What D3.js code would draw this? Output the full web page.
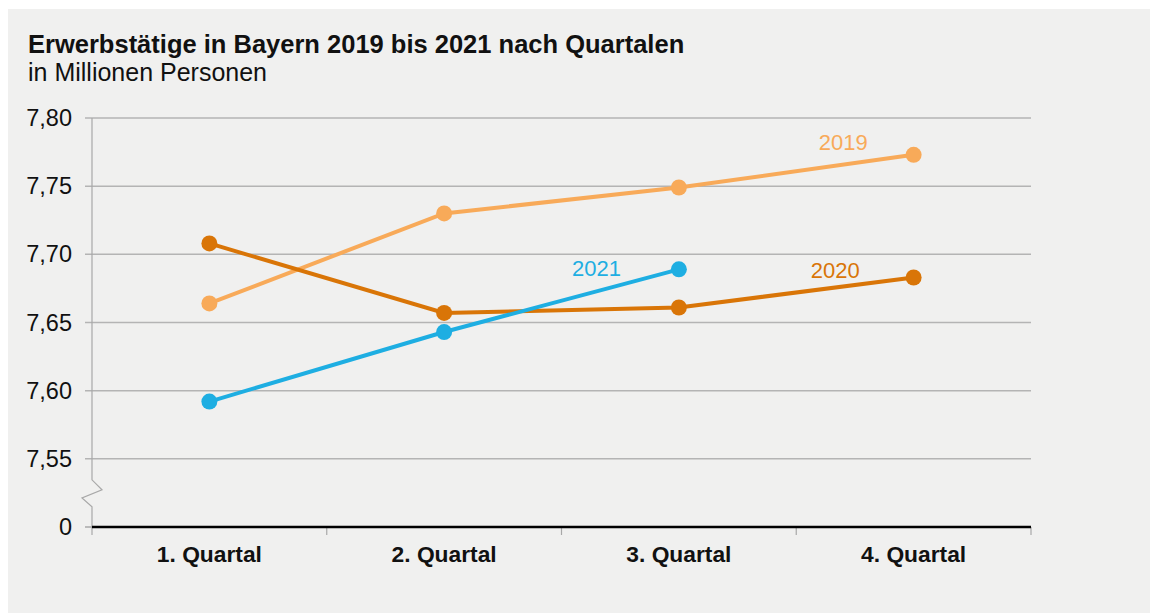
<!DOCTYPE html>
<html>
<head>
<meta charset="utf-8">
<script src="https://cdn.jsdelivr.net/npm/d3@7"></script>
<style>
  body { margin: 0; background: #fff; }
  text { font-family: "Liberation Sans", Arial, sans-serif; }
</style>
</head>
<body>
<div id="chart"></div>
<script>
// data
var quarters = ["1. Quartal", "2. Quartal", "3. Quartal", "4. Quartal"];
var values2019 = [7.664, 7.730, 7.749, 7.773];
var values2020 = [7.708, 7.657, 7.661, 7.683];
var values2021 = [7.592, 7.643, 7.689];
var yTicks = [7.50, 7.55, 7.60, 7.65, 7.70, 7.75, 7.80];
var yTickLabels = ["0", "7,55", "7,60", "7,65", "7,70", "7,75", "7,80"];

var series = [
  {name: "2019", values: values2019, color: "#f8aa59", labelQ: 3, dx: -46, dy: -5},
  {name: "2020", values: values2020, color: "#d97507", labelQ: 3, dx: -54, dy: 0},
  {name: "2021", values: values2021, color: "#1eaee2", labelQ: 2, dx: -58, dy: 7}
];

var W = 1159, H = 614;
var margin = {left: 92, right: 128, top: 118, bottom: 87};
var width = W - margin.left - margin.right;
var height = H - margin.top - margin.bottom;

var svg = d3.select("#chart").append("svg")
  .attr("width", W)
  .attr("height", H);

svg.append("rect")
  .attr("x", 8).attr("y", 9)
  .attr("width", 1142).attr("height", 604)
  .attr("fill", "#f0f0ef");

svg.append("text")
  .text("Erwerbstätige in Bayern 2019 bis 2021 nach Quartalen")
  .attr("x", 28).attr("y", 53)
  .attr("font-size", "25.5px")
  .attr("font-weight", "bold")
  .attr("fill", "#111");

svg.append("text")
  .text("in Millionen Personen")
  .attr("x", 28).attr("y", 81)
  .attr("font-size", "25px")
  .attr("fill", "#111");

var g = svg.append("g")
  .attr("transform", "translate(" + margin.left + "," + margin.top + ")");

var x = d3.scaleBand().domain(quarters).range([0, width]);
var y = d3.scaleLinear().domain([7.50, 7.80]).range([height, 0]);

// gridlines
g.selectAll(".grid")
  .data(yTicks.slice(1))
  .enter().append("line")
    .attr("class", "grid")
    .attr("x1", -7).attr("x2", width)
    .attr("y1", function(d) { return y(d); })
    .attr("y2", function(d) { return y(d); })
    .attr("stroke", "#b4b4b4")
    .attr("stroke-width", 1.5);

// y axis with break
var yb = y(7.55);
var axisPath = "M0," + y(7.80) + "V" + (yb + 21) +
  "L10," + (yb + 31) + "L-10," + (yb + 39) + "L0," + (yb + 48) + "V" + height;
g.append("path")
  .attr("d", axisPath)
  .attr("fill", "none")
  .attr("stroke", "#a8a8a8")
  .attr("stroke-width", 1.2);

g.append("line")
  .attr("x1", -7).attr("x2", 0)
  .attr("y1", height).attr("y2", height)
  .attr("stroke", "#a8a8a8").attr("stroke-width", 1.5);

g.selectAll(".ylab")
  .data(yTicks)
  .enter().append("text")
    .attr("class", "ylab")
    .attr("x", -20)
    .attr("y", function(d) { return y(d) + 8; })
    .attr("text-anchor", "end")
    .attr("font-size", "23.5px")
    .attr("fill", "#111")
    .text(function(d, i) { return yTickLabels[i]; });

// x axis
g.selectAll(".xtick")
  .data(quarters.concat(["end"]))
  .enter().append("line")
    .attr("class", "xtick")
    .attr("x1", function(d, i) { return i < quarters.length ? x(d) : width; })
    .attr("x2", function(d, i) { return i < quarters.length ? x(d) : width; })
    .attr("y1", height).attr("y2", height + 8)
    .attr("stroke", "#a8a8a8").attr("stroke-width", 1.2);

g.append("line")
  .attr("x1", 0).attr("x2", width)
  .attr("y1", height).attr("y2", height)
  .attr("stroke", "#000").attr("stroke-width", 2.5);

g.selectAll(".xlab")
  .data(quarters)
  .enter().append("text")
    .attr("class", "xlab")
    .attr("x", function(d) { return x(d) + x.bandwidth() / 2; })
    .attr("y", height + 35)
    .attr("text-anchor", "middle")
    .attr("font-size", "22.8px")
    .attr("font-weight", "bold")
    .attr("fill", "#111")
    .text(function(d) { return d; });

// lines
var line = d3.line()
  .x(function(d, i) { return x(quarters[i]) + x.bandwidth() / 2; })
  .y(function(d) { return y(d); });

series.forEach(function(s) {
  g.append("path")
    .datum(s.values)
    .attr("d", line)
    .attr("fill", "none")
    .attr("stroke", s.color)
    .attr("stroke-width", 4);

  g.selectAll(".pt" + s.name)
    .data(s.values)
    .enter().append("circle")
      .attr("cx", function(d, i) { return x(quarters[i]) + x.bandwidth() / 2; })
      .attr("cy", function(d) { return y(d); })
      .attr("r", 8)
      .attr("fill", s.color);

  var lq = s.labelQ;
  g.append("text")
    .attr("x", x(quarters[lq]) + x.bandwidth() / 2 + s.dx)
    .attr("y", y(s.values[lq]) + s.dy)
    .attr("text-anchor", "end")
    .attr("font-size", "22px")
    .attr("fill", s.color)
    .text(s.name);
});
</script>
</body>
</html>
